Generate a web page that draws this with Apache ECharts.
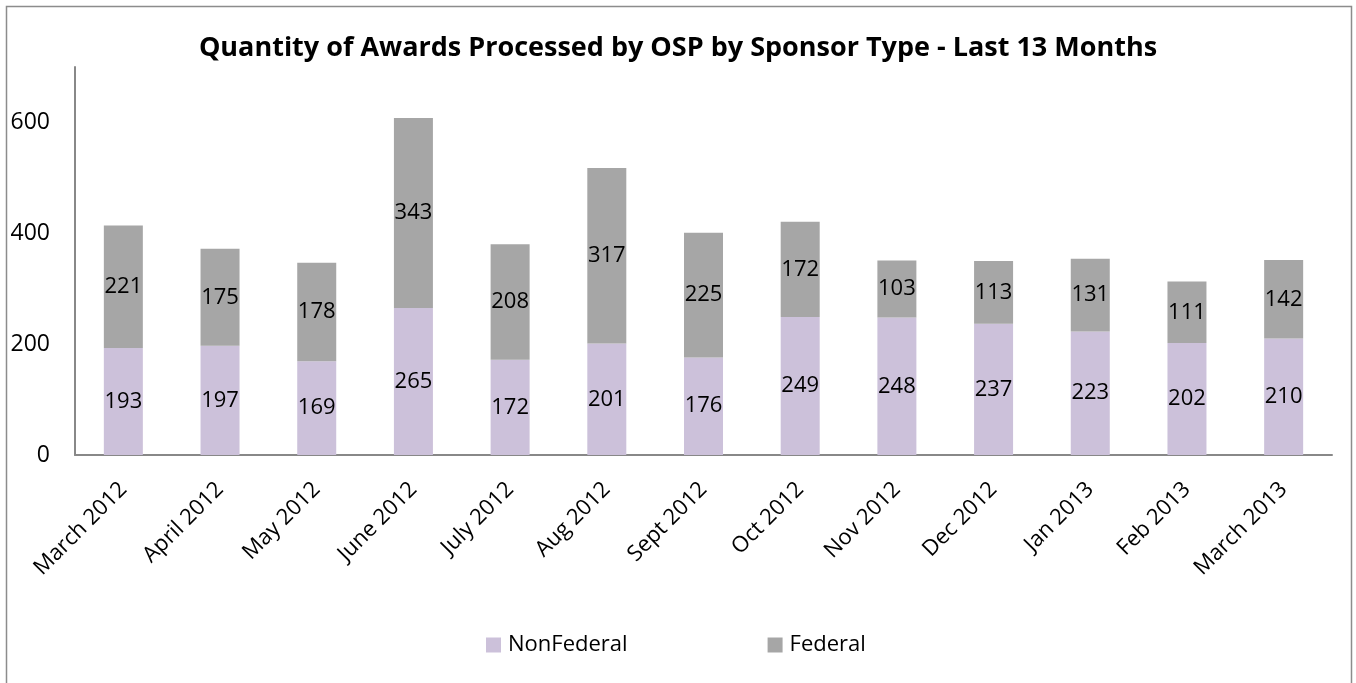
<!DOCTYPE html>
<html>
<head>
<meta charset="utf-8">
<script src="https://cdn.jsdelivr.net/npm/echarts@6/dist/echarts.min.js"></script>
<style>
  html, body { margin: 0; padding: 0; background: #fff; }
  #chart { width: 1356px; height: 683px; }
</style>
</head>
<body>
<div id="chart"></div>
<script>
// categories and values
var months = ["March 2012", "April 2012", "May 2012", "June 2012", "July 2012", "Aug 2012",
  "Sept 2012", "Oct 2012", "Nov 2012", "Dec 2012", "Jan 2013", "Feb 2013", "March 2013"];
var nonFederal = [193, 197, 169, 265, 172, 201, 176, 249, 248, 237, 223, 202, 210];
var federal = [221, 175, 178, 343, 208, 317, 225, 172, 103, 113, 131, 111, 142];

var font = "'Open Sans', 'Noto Sans', sans-serif";
var chart = echarts.init(document.getElementById("chart"));

var labelStyle = {
  show: true,
  position: "inside",
  color: "#000",
  fontSize: 22,
  fontFamily: font
};

chart.setOption({
  animation: false,
  textStyle: { fontFamily: font },
  title: {
    text: "Quantity of Awards Processed by OSP by Sponsor Type - Last 13 Months",
    left: "center",
    top: 30,
    textStyle: { fontSize: 27, fontWeight: "bold", color: "#000", fontFamily: font }
  },
  graphic: [{
    type: "rect",
    shape: { x: 6.5, y: 6.5, width: 1345, height: 700 },
    style: { fill: "none", stroke: "#8c8c8c", lineWidth: 1.5 },
    silent: true
  }],
  legend: {
    top: 629,
    left: 481,
    itemGap: 140,
    itemWidth: 15,
    itemHeight: 15,
    icon: "rect",
    textStyle: { fontSize: 22, color: "#000", fontFamily: font, padding: [0, 0, 0, 2] },
    data: ["NonFederal", "Federal"]
  },
  grid: { left: 75, right: 24, top: 67, bottom: 228, containLabel: false },
  xAxis: {
    type: "category",
    data: months,
    axisLine: { lineStyle: { color: "#888", width: 2 } },
    axisTick: { show: false },
    axisLabel: { rotate: 45, color: "#000", fontSize: 22, fontFamily: font, margin: 31, interval: 0 }
  },
  yAxis: {
    type: "value",
    min: 0,
    max: 700,
    interval: 200,
    axisLine: { show: true, lineStyle: { color: "#888", width: 2 } },
    axisTick: { show: false },
    splitLine: { show: false },
    axisLabel: { color: "#000", fontSize: 23, fontFamily: font, margin: 25, showMaxLabel: false }
  },
  series: [
    {
      name: "NonFederal",
      type: "bar",
      stack: "total",
      barWidth: 39,
      data: nonFederal,
      itemStyle: { color: "#ccc1da" },
      label: labelStyle
    },
    {
      name: "Federal",
      type: "bar",
      stack: "total",
      barWidth: 39,
      data: federal,
      itemStyle: { color: "#a6a6a6" },
      label: labelStyle
    }
  ]
});
</script>
</body>
</html>
